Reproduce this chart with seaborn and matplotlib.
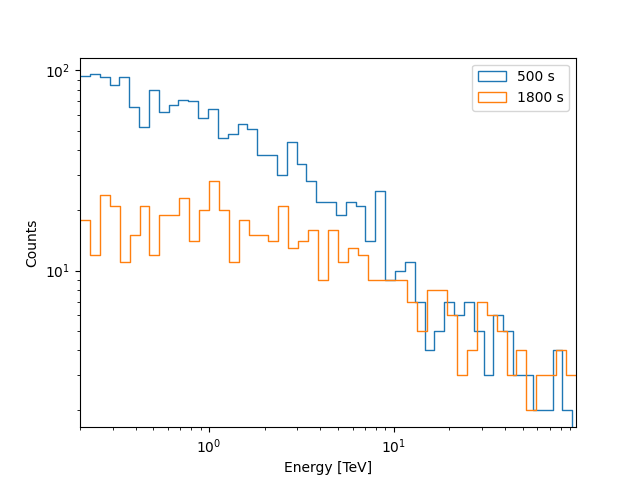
import numpy as np
import pandas as pd
import matplotlib
matplotlib.use("Agg")
import matplotlib.pyplot as plt
import seaborn as sns
from matplotlib.patches import Patch

# Energy ranges of the binning for each exposure [TeV]
e_range_500 = (0.2, 92.5)
e_range_1800 = (0.2, 97.0)
n_bins = 50

# Counts per bin
counts_500 = [94, 96, 93, 85, 93, 66, 52, 80, 62, 67,
              71, 70, 58, 64, 46, 48, 54, 51, 38, 38,
              30, 44, 34, 28, 22, 22, 19, 22, 21, 14,
              25, 9, 10, 11, 7, 4, 5, 7, 6, 7,
              5, 3, 6, 5, 3, 3, 2, 2, 4, 2]
counts_1800 = [18, 12, 24, 21, 11, 15, 21, 12, 19, 19,
               23, 14, 20, 28, 20, 11, 18, 15, 15, 14,
               21, 13, 14, 16, 9, 16, 11, 13, 12, 9,
               9, 9, 9, 7, 5, 8, 8, 6, 3, 4,
               7, 6, 5, 3, 4, 2, 3, 3, 4, 3]
labels = ["500 s", "1800 s"]
colors = ["#1f77b4", "#ff7f0e"]

edges_500 = np.logspace(np.log10(e_range_500[0]), np.log10(e_range_500[1]), n_bins + 1)
edges_1800 = np.logspace(np.log10(e_range_1800[0]), np.log10(e_range_1800[1]), n_bins + 1)

# empty bin after the last 500 s bin (line drops to zero there)
ratio = edges_500[1] / edges_500[0]
edges_500_ext = np.append(edges_500, edges_500[-1] * ratio)
counts_500_ext = list(counts_500) + [0]

def centers(edges):
    return np.sqrt(edges[:-1] * edges[1:])

df500 = pd.DataFrame({"energy": centers(edges_500_ext), "counts": counts_500_ext})
df1800 = pd.DataFrame({"energy": centers(edges_1800), "counts": counts_1800})

fig, ax = plt.subplots(figsize=(6.4, 4.8), dpi=100)

sns.histplot(data=df500, x="energy", weights="counts", bins=list(edges_500_ext),
             element="step", fill=False, color=colors[0], linewidth=1.0, ax=ax)
sns.histplot(data=df1800, x="energy", weights="counts", bins=list(edges_1800),
             element="step", fill=False, color=colors[1], linewidth=1.0, ax=ax)

ax.set_xscale("log")
ax.set_yscale("log")
ax.set_xlim(e_range_1800)
ax.set_ylim(1.65, 116)
ax.set_xlabel("Energy [TeV]")
ax.set_ylabel("Counts")

handles = [Patch(facecolor="none", edgecolor=c, linewidth=1.0) for c in colors]
ax.legend(handles, labels, loc="upper right")

fig.savefig("out.png", dpi=100)
